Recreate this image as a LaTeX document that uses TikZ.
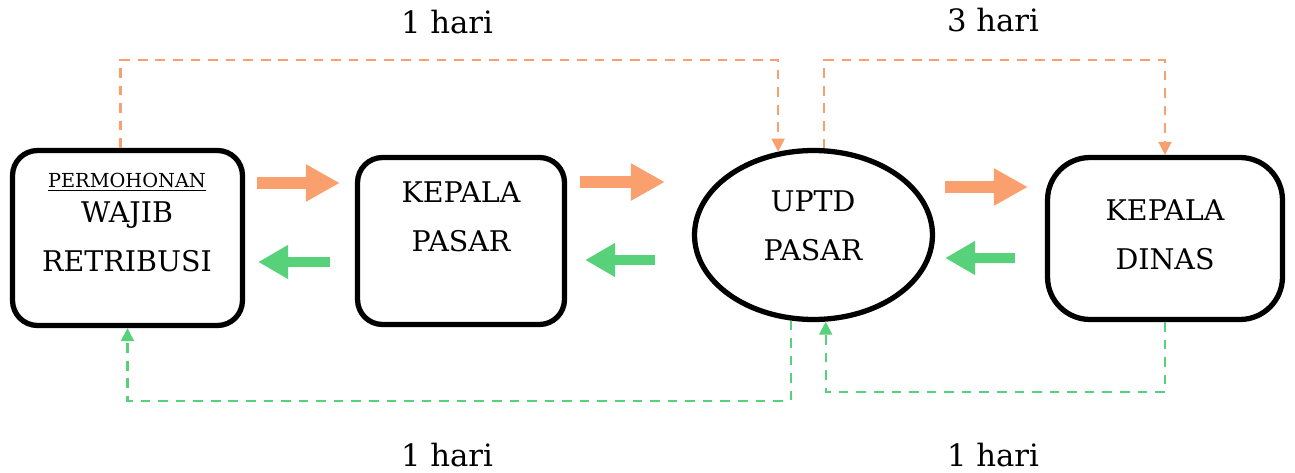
\documentclass[tikz,border=0pt]{standalone}
\usepackage{fontspec}
\setmainfont{DejaVu Serif}
\usetikzlibrary{arrows.meta,calc,shapes.geometric}
\definecolor{salmon}{RGB}{249,160,110}
\definecolor{mint}{RGB}{88,210,122}

\begin{document}
\begin{tikzpicture}[x=0.02cm, y=-0.02cm,
    box/.style={draw, line width=3pt, rounded corners=0.5cm, inner sep=0pt},
    txt/.style={align=center, font=\fontsize{16.2}{28}\selectfont},
    daytxt/.style={font=\fontsize{17.5}{20}\selectfont},
    fwdarrow/.style={salmon, line width=0.23cm, -{Triangle[length=0.68cm, width=0.7cm]}},
    backarrow/.style={mint, line width=0.2cm, -{Triangle[length=0.6cm, width=0.64cm]}},
    upflow/.style={salmon, line width=1.2pt, dash pattern=on 5.5pt off 4.5pt, -{Triangle[length=0.26cm, width=0.26cm]}},
    downflow/.style={mint, line width=1.2pt, dash pattern=on 5.5pt off 4.5pt, -{Triangle[length=0.26cm, width=0.26cm]}}]
        \useasboundingbox (0,0) rectangle (1295,473);

        % the four stations
        \node[box, minimum width=4.6cm, minimum height=3.5cm] (wajib) at (127.5,238) {};
        \node[font=\fontsize{11}{12}\selectfont] (permohonan) at (127,182) {\underline{PERMOHONAN}};
        \node[txt] (wajibtxt) at (127,237) {WAJIB\\RETRIBUSI};

        \node[box, minimum width=4.14cm, minimum height=3.34cm] (kpasar) at (461,241) {};
        \node[txt] (kpasartxt) at (461,217) {KEPALA\\PASAR};

        \node[draw, ellipse, line width=3pt, minimum width=4.76cm, minimum height=3.38cm, inner sep=0pt] (uptd) at (813.5,235) {};
        \node[txt] (uptdtxt) at (813,226) {UPTD\\PASAR};

        \node[box, rounded corners=0.85cm, minimum width=4.7cm, minimum height=3.24cm] (kdinas) at (1165,238.5) {};
        \node[txt] (kdinastxt) at (1165,235) {KEPALA\\DINAS};

        % block arrows
        \draw[fwdarrow] ($(wajib.east)+(12,-55)$) -- ($(kpasar.west)+(-15,-58)$);
        \draw[fwdarrow] ($(kpasar.east)+(13,-59)$) -- ($(uptd.west)+(-27,-53)$);
        \draw[fwdarrow] ($(uptd.east)+(10,-48)$) -- ($(kdinas.west)+(-17,-51.5)$);

        \draw[backarrow] ($(kpasar.west)+(-25,21)$) -- ($(wajib.east)+(13,24)$);
        \draw[backarrow] ($(uptd.west)+(-37,25)$) -- ($(kpasar.east)+(18,19)$);
        \draw[backarrow] ($(kdinas.west)+(-30,19.5)$) -- ($(uptd.east)+(10,23)$);

        % dashed time lines
        \draw[upflow] ([xshift=-0.14cm]wajib.north) -- ++(0,-88) -| (uptd.113);
        \draw[upflow] (uptd.83) -- ++(0,-88) -| (kdinas.north);
        \draw[downflow] (uptd.255) -- ++(0,80) -| (wajib.south);
        \draw[downflow] (kdinas.south) -- ++(0,70) -| (uptd.278);

        \node[daytxt] (hari1) at (447,22) {1 hari};
        \node[daytxt] (hari3) at (993,20) {3 hari};
        \node[daytxt] (hari1b) at (447,455) {1 hari};
        \node[daytxt] (hari1c) at (993,455) {1 hari};
\end{tikzpicture}
\end{document}
